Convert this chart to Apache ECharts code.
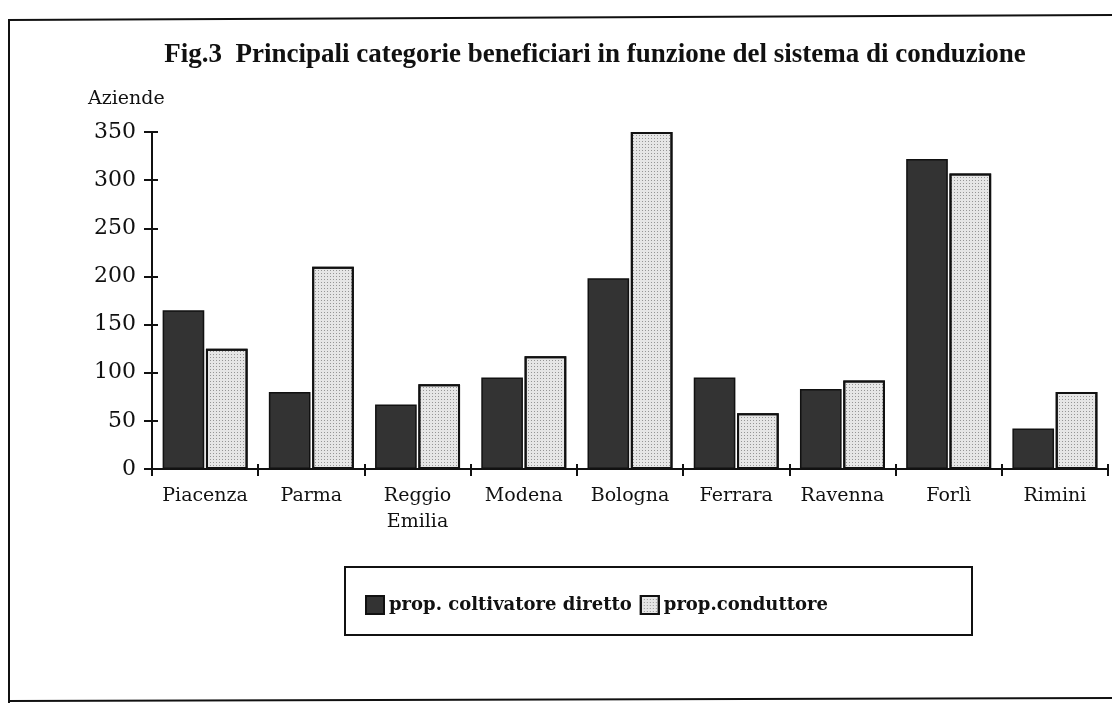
<!DOCTYPE html>
<html><head><meta charset="utf-8">
<script src="https://cdn.jsdelivr.net/npm/echarts@6/dist/echarts.min.js"></script>
<style>html,body{margin:0;padding:0;background:#fff}#c{width:1112px;height:703px}</style>
</head><body><div id="c"></div>
<script>
const categories = ['Piacenza','Parma','Reggio\nEmilia','Modena','Bologna','Ferrara','Ravenna','Forlì','Rimini'];
const coltivatore = [165, 80, 67, 95, 198, 95, 83, 322, 42];
const conduttore = [125, 210, 88, 117, 350, 58, 92, 307, 80];
const yTicks = [0, 50, 100, 150, 200, 250, 300, 350];

const serif = '"DejaVu Serif", "Liberation Serif", serif';
const titleFont = '"Liberation Serif", "DejaVu Serif", serif';
const chart = echarts.init(document.getElementById('c'));
const axisCommon = {lineStyle: {color: '#111', width: 2}};
chart.setOption({
  animation: false,
  backgroundColor: '#fff',
  title: {
    text: 'Fig.3  Principali categorie beneficiari in funzione del sistema di conduzione',
    left: 590, textAlign: 'center', top: 37,
    textStyle: {fontFamily: titleFont, fontSize: 27, fontWeight: 'bold', color: '#111'}
  },
  graphic: [
    {type: 'line', shape: {x1: 8, y1: 20, x2: 1112, y2: 15}, style: {stroke: '#111', lineWidth: 2}},
    {type: 'line', shape: {x1: 9, y1: 19, x2: 9, y2: 703}, style: {stroke: '#111', lineWidth: 2}},
    {type: 'line', shape: {x1: 8, y1: 701, x2: 1112, y2: 698}, style: {stroke: '#111', lineWidth: 2}},
    {type: 'rect', shape: {x: 345, y: 567, width: 627, height: 68}, style: {fill: 'none', stroke: '#111', lineWidth: 2}},
    {type: 'text', left: 88, top: 90, style: {text: 'Aziende', fontFamily: serif, fontSize: 19, fill: '#111'}}
  ],
  legend: {
    left: 360, top: 590, itemWidth: 18, itemHeight: 18, itemGap: 8, icon: 'rect',
    textStyle: {fontFamily: serif, fontSize: 18, fontWeight: 'bold', color: '#111'},
    data: ['prop. coltivatore diretto', 'prop.conduttore']
  },
  grid: {left: 152, right: 4, top: 132, bottom: 703 - 469, containLabel: false},
  xAxis: [{
    type: 'category', data: categories,
    axisLine: axisCommon,
    axisTick: {show: true, length: 7, inside: false, lineStyle: {color: '#111', width: 2}},
    axisLabel: {fontFamily: serif, fontSize: 19, color: '#111', margin: 14, lineHeight: 26, interval: 0}
  }, {
    type: 'category', data: categories, position: 'bottom',
    axisLine: {show: false},
    axisTick: {show: true, length: 5, inside: true, lineStyle: {color: '#111', width: 2}},
    axisLabel: {show: false}
  }],
  yAxis: [{
    type: 'value', min: 0, max: 350, interval: 50,
    splitLine: {show: false},
    axisLine: {show: true, lineStyle: {color: '#111', width: 2}},
    axisTick: {show: true, length: 8, lineStyle: {color: '#111', width: 2}},
    axisLabel: {fontFamily: serif, fontSize: 22, color: '#111', margin: 16,
      formatter: v => yTicks.includes(v) ? String(v) : ''}
  }, {
    type: 'value', min: 0, max: 350, interval: 50, position: 'left',
    splitLine: {show: false},
    axisLine: {show: false},
    axisTick: {show: true, length: 6, inside: true, lineStyle: {color: '#111', width: 2}},
    axisLabel: {show: false}
  }],
  series: [
    {name: 'prop. coltivatore diretto', type: 'bar', data: coltivatore, barGap: '4%', barCategoryGap: '20%',
      itemStyle: {color: '#333333', borderColor: '#111', borderWidth: 1.5}},
    {name: 'prop.conduttore', type: 'bar', data: conduttore,
      itemStyle: {color: '#e6e6e6', borderColor: '#111', borderWidth: 2,
        decal: {symbol: 'rect', symbolSize: 1, dashArrayX: [1, 2], dashArrayY: [1, 2], color: 'rgba(0,0,0,0.35)', rotation: 0}}}
  ]
});
</script></body></html>
